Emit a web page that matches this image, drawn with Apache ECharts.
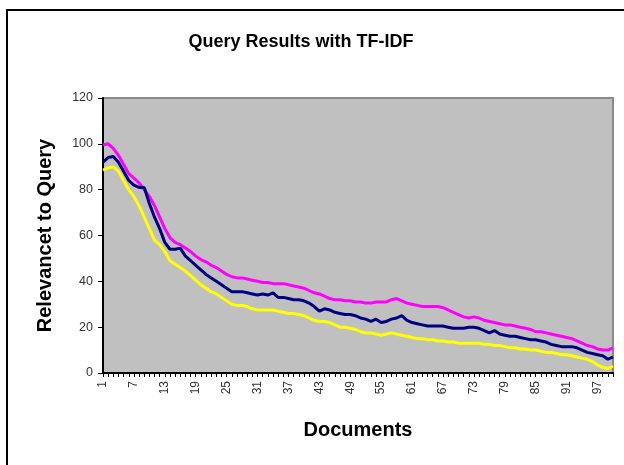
<!DOCTYPE html>
<html>
<head>
<meta charset="utf-8">
<script src="https://cdn.jsdelivr.net/npm/echarts@6/dist/echarts.min.js"></script>
<style>
html,body{margin:0;padding:0;background:#fff;}
#c{width:624px;height:465px;}
</style>
</head>
<body>
<div id="c"></div>
<script>
const documents = Array.from({length: 100}, (_, i) => String(i + 1));

const magentaSeries = [
  99.5,100,98,95,91,87,85,83,80,77,
  73,68,63,59,57,56,54.5,53,51,49.5,
  48.5,47,46,44.5,43,42,41.5,41.5,41,40.5,
  40,39.5,39.5,39,39,39,38.5,38,37.5,37,
  36,35,34.5,33.5,32.5,32,32,31.5,31.5,31,
  31,30.5,30.5,31,31,31,32,32.5,31.5,30.5,
  30,29.5,29,29,29,29,28.5,27.5,26.5,25.5,
  24.5,24,24.5,24,23,22.5,22,21.5,21,21,
  20.5,20,19.5,19,18,18,17.5,17,16.5,16,
  15.5,15,14,13,12,11.5,10.5,10,10,11
];

const navySeries = [
  92,94,94.5,92,88,84,82,81,81,74,
  68,63,57,54,54,54.5,51,49,47,45,
  43,41.5,40,38.5,37,35.5,35.5,35.5,35,34.5,
  34,34.5,34,35,33,33,32.5,32,32,31.5,
  30.5,29,27,28,27.5,26.5,26,25.5,25.5,25,
  24,23.5,22.5,23.5,22,22.5,23.5,24,25,23,
  22,21.5,21,20.5,20.5,20.5,20.5,20,19.5,19.5,
  19.5,20,20,19.5,18.5,17.5,18.5,17,16.5,16,
  16,15.5,15,14.5,14.5,14,13.5,12.5,12,11.5,
  11.5,11.5,11,10,9,8.5,8,7.5,6,7
];

const yellowSeries = [
  88.5,89.5,90,88,84,80,77,73,68,63,
  58,56,53,49,47.5,46,44.5,42.5,40.5,38.5,
  37,35.5,34.5,33,31.5,30,29.5,29.5,29,28,
  27.5,27.5,27.5,27.5,27,26.5,26,26,25.5,25,
  24,23,22.5,22.5,22,21,20,20,19.5,19,
  18,17.5,17.5,17,16.5,17,17.5,17,16.5,16,
  15.5,15,15,14.5,14.5,14,14,13.5,13.5,13,
  13,13,13,13,12.5,12.5,12,12,11.5,11,
  11,10.5,10.5,10,10,9.5,9,9,8.5,8,
  8,7.5,7,6.5,6,5,3.5,2.5,2,3
];

const yTicks = {min: 0, max: 120, interval: 20};

const chart = echarts.init(document.getElementById('c'), null, {renderer: 'canvas'});
const FONT = '"Liberation Sans", Arial, sans-serif';

chart.setOption({
  animation: false,
  backgroundColor: '#ffffff',
  textStyle: {fontFamily: FONT},
  title: {
    text: 'Query Results with TF-IDF',
    left: 296,
    top: 28,
    textAlign: 'center',
    textStyle: {fontFamily: FONT, fontSize: 18, fontWeight: 'bold', color: '#000'}
  },
  graphic: [{
    type: 'rect',
    shape: {x: 7, y: 10, width: 640, height: 480},
    style: {fill: 'none', stroke: '#000', lineWidth: 2},
    silent: true,
    z: 100
  }],
  grid: {
    left: 103, top: 98, right: 11, bottom: 92,
    show: true,
    backgroundColor: '#c0c0c0',
    borderColor: '#8a8a8a',
    borderWidth: 2
  },
  xAxis: {
    type: 'category',
    data: documents,
    boundaryGap: false,
    name: 'Documents',
    nameLocation: 'middle',
    nameGap: 47,
    nameTextStyle: {fontFamily: FONT, fontSize: 20, fontWeight: 'bold', color: '#000'},
    axisLine: {show: true, lineStyle: {color: '#000', width: 2}},
    axisTick: {show: true, interval: 0, length: 4, lineStyle: {color: '#000'}},
    axisLabel: {interval: 5, rotate: 90, fontSize: 12, color: '#333', margin: 8, fontFamily: FONT},
    splitLine: {show: false}
  },
  yAxis: {
    type: 'value',
    min: yTicks.min,
    max: yTicks.max,
    interval: yTicks.interval,
    name: 'Relevancet to Query',
    nameLocation: 'middle',
    nameGap: 48,
    nameTextStyle: {fontFamily: FONT, fontSize: 20, fontWeight: 'bold', color: '#000'},
    axisLine: {show: true, lineStyle: {color: '#000', width: 2}},
    axisTick: {show: true, length: 5, lineStyle: {color: '#000'}},
    axisLabel: {fontSize: 12.5, color: '#333', margin: 10, fontFamily: FONT},
    splitLine: {show: false}
  },
  series: [
    {name: 'magenta', type: 'line', data: magentaSeries, showSymbol: false, smooth: false,
     lineStyle: {color: '#ff00ff', width: 3}, itemStyle: {color: '#ff00ff'}},
    {name: 'navy', type: 'line', data: navySeries, showSymbol: false, smooth: false,
     lineStyle: {color: '#000080', width: 3}, itemStyle: {color: '#000080'}},
    {name: 'yellow', type: 'line', data: yellowSeries, showSymbol: false, smooth: false,
     lineStyle: {color: '#ffff00', width: 3}, itemStyle: {color: '#ffff00'}}
  ]
});
</script>
</body>
</html>
